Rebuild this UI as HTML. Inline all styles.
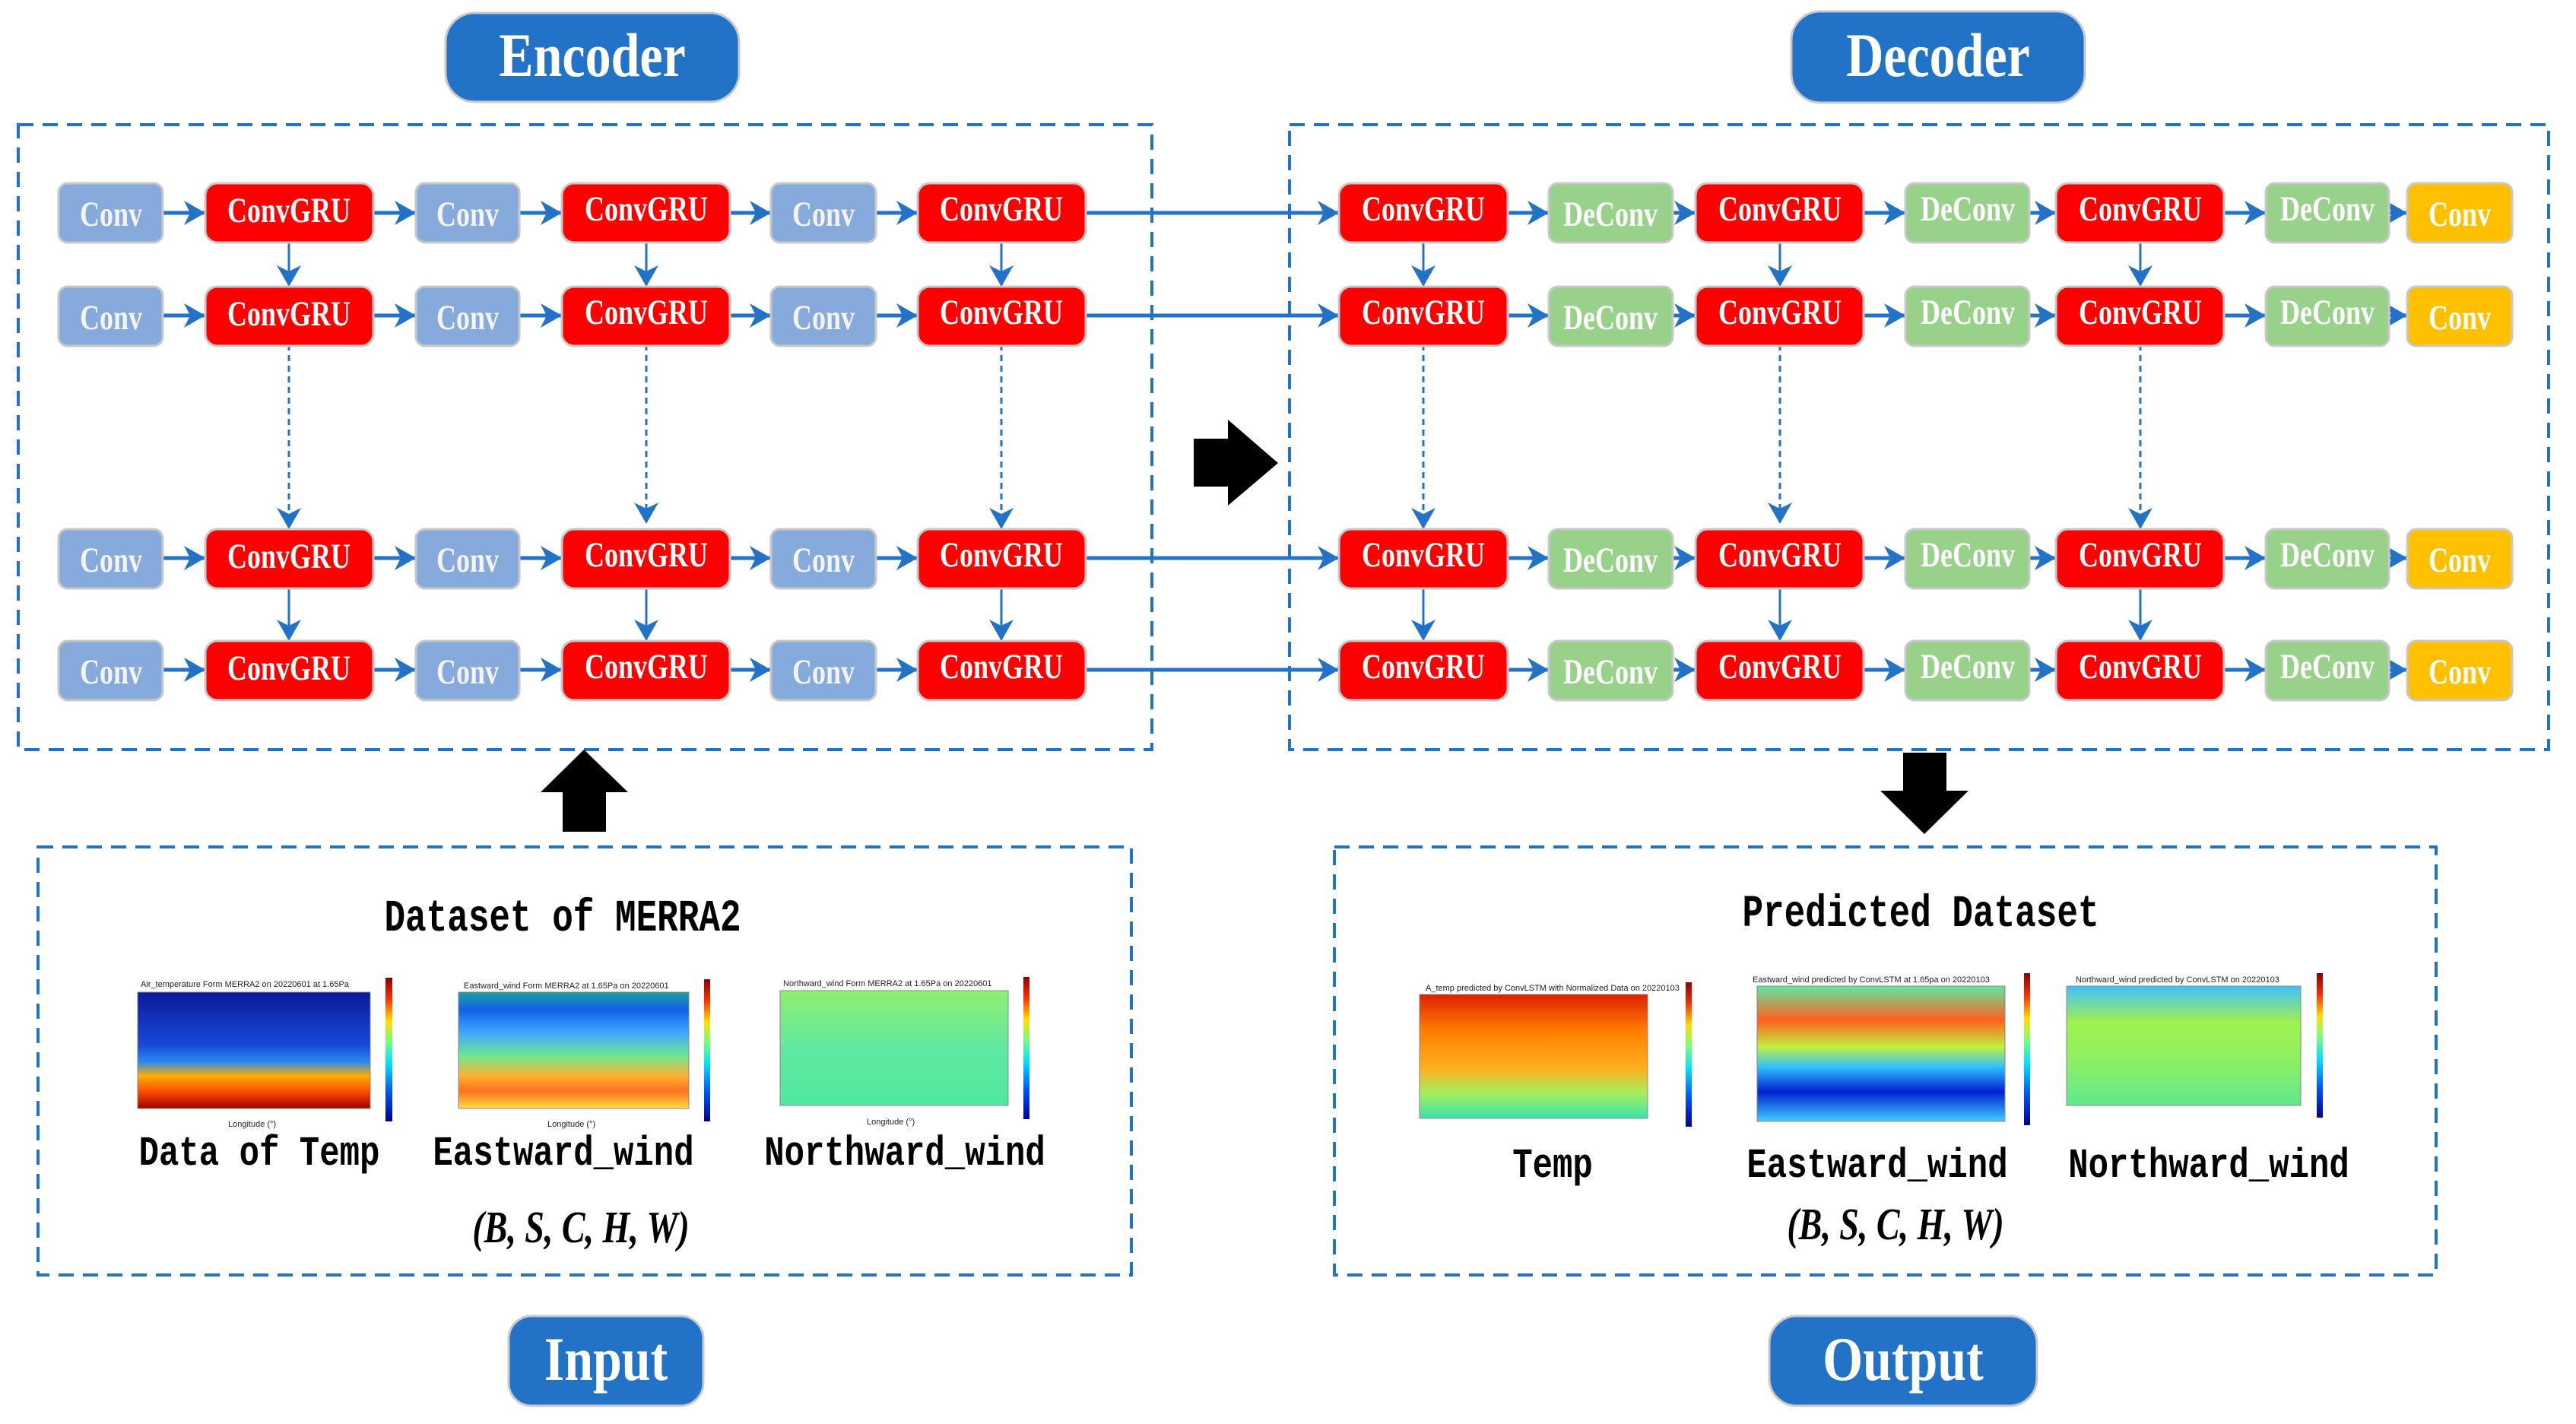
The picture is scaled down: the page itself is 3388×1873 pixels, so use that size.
<!DOCTYPE html>
<html><head><meta charset="utf-8"><style>
html,body{margin:0;padding:0;background:#fff;}
svg{display:block;}
.bt{font-family:"Liberation Serif",serif;font-weight:bold;fill:#fff;}
.mo{font-family:"Liberation Mono",monospace;font-weight:bold;fill:#000;}
.it{font-family:"Liberation Serif",serif;font-weight:bold;font-style:italic;fill:#000;}
</style></head><body>
<svg width="3388" height="1873" viewBox="0 0 3388 1873" xmlns="http://www.w3.org/2000/svg">
<defs>
<marker id="ah" markerUnits="userSpaceOnUse" markerWidth="30" markerHeight="32" refX="28" refY="16" orient="auto"><path d="M0,0 L28,16 L0,32 L8,16 Z" fill="#2272c8"/></marker>
<linearGradient id="cb" x1="0" y1="1" x2="0" y2="0"><stop offset="0" stop-color="#00008f"/><stop offset="0.2" stop-color="#0050ff"/><stop offset="0.4" stop-color="#00dfff"/><stop offset="0.55" stop-color="#70ff80"/><stop offset="0.7" stop-color="#ffe000"/><stop offset="0.85" stop-color="#ff3000"/><stop offset="1" stop-color="#8f0000"/></linearGradient>
<linearGradient id="m1" x1="0" y1="0" x2="0" y2="1"><stop offset="0" stop-color="#0a1a9a"/><stop offset="0.45" stop-color="#1848d8"/><stop offset="0.6" stop-color="#2a8af0"/><stop offset="0.72" stop-color="#ffb000"/><stop offset="0.85" stop-color="#ff5000"/><stop offset="1" stop-color="#a00000"/></linearGradient>
<linearGradient id="m2" x1="0" y1="0" x2="0" y2="1"><stop offset="0" stop-color="#20a0a0"/><stop offset="0.15" stop-color="#1060e8"/><stop offset="0.35" stop-color="#40a8ff"/><stop offset="0.55" stop-color="#70e890"/><stop offset="0.72" stop-color="#ffb030"/><stop offset="0.85" stop-color="#ff7020"/><stop offset="1" stop-color="#ffe040"/></linearGradient>
<linearGradient id="m3" x1="0" y1="0" x2="0" y2="1"><stop offset="0" stop-color="#90f070"/><stop offset="0.5" stop-color="#60e8a0"/><stop offset="1" stop-color="#50e8a0"/></linearGradient>
<linearGradient id="m4" x1="0" y1="0" x2="0" y2="1"><stop offset="0" stop-color="#e02000"/><stop offset="0.3" stop-color="#ff8000"/><stop offset="0.6" stop-color="#ffb020"/><stop offset="0.8" stop-color="#a0f060"/><stop offset="1" stop-color="#40e0b0"/></linearGradient>
<linearGradient id="m5" x1="0" y1="0" x2="0" y2="1"><stop offset="0" stop-color="#60e8a0"/><stop offset="0.25" stop-color="#ff6020"/><stop offset="0.45" stop-color="#c0f040"/><stop offset="0.6" stop-color="#30c0ff"/><stop offset="0.78" stop-color="#0020d0"/><stop offset="1" stop-color="#40d0ff"/></linearGradient>
<linearGradient id="m6" x1="0" y1="0" x2="0" y2="1"><stop offset="0" stop-color="#40c0ff"/><stop offset="0.3" stop-color="#a0f050"/><stop offset="0.6" stop-color="#90f060"/><stop offset="1" stop-color="#60e890"/></linearGradient>
</defs>

<!-- Pills -->
<rect x="586" y="17" width="386" height="117" rx="38" fill="#2272c8" stroke="#c8c8c8" stroke-width="3"/>
<text class="bt" transform="translate(779,100) scale(1,1.2)" text-anchor="middle" font-size="68">Encoder</text>
<rect x="2356" y="15" width="386" height="120" rx="38" fill="#2272c8" stroke="#c8c8c8" stroke-width="3"/>
<text class="bt" transform="translate(2549,100) scale(1,1.2)" text-anchor="middle" font-size="68">Decoder</text>
<rect x="669" y="1731" width="256" height="118" rx="30" fill="#2272c8" stroke="#c8c8c8" stroke-width="3"/>
<text class="bt" transform="translate(797,1815) scale(1,1.2)" text-anchor="middle" font-size="68">Input</text>
<rect x="2327" y="1731" width="352" height="118" rx="36" fill="#2272c8" stroke="#c8c8c8" stroke-width="3"/>
<text class="bt" transform="translate(2503,1815) scale(1,1.2)" text-anchor="middle" font-size="68">Output</text>

<!-- Dashed containers -->
<g fill="none" stroke="#2272c8" stroke-width="4" stroke-dasharray="20 12">
<rect x="24" y="164" width="1491" height="822"/>
<rect x="1696" y="164" width="1656" height="822"/>
<rect x="50" y="1114" width="1438" height="563"/>
<rect x="1755" y="1114" width="1449" height="563"/>
</g>

<!-- Big arrows -->
<path d="M1570,577 L1615,577 L1615,552 L1681,609 L1615,665 L1615,640 L1570,640 Z" fill="#000"/>
<path d="M740,1094 L797,1094 L797,1042 L826,1042 L768,986 L711,1042 L740,1042 Z" fill="#000"/>
<path d="M2503,990 L2560,990 L2560,1040 L2589,1040 L2531,1097 L2473,1040 L2503,1040 Z" fill="#000"/>

<!-- horizontal connector row template -->
<g id="hr" stroke="#2272c8" stroke-width="5" fill="none" marker-end="url(#ah)">
<path d="M214,280H270"/><path d="M491,280H547"/><path d="M683,280H739"/><path d="M960,280H1014"/><path d="M1152,280H1207"/>
<path d="M1428,280H1761"/><path d="M1983,280H2037"/><path d="M2200,280H2230"/><path d="M2451,280H2506"/><path d="M2669,280H2704"/><path d="M2925,280H2980"/><path d="M3142,280H3166"/>
</g>
<use href="#hr" transform="translate(0,135)"/>
<use href="#hr" transform="translate(0,454)"/>
<use href="#hr" transform="translate(0,601)"/>

<g stroke="#2272c8" stroke-width="3" fill="none" marker-end="url(#ah)">
<path d="M380,319V377"/><path d="M850,319V377"/><path d="M1317,319V377"/>
<path d="M1872,319V377"/><path d="M2341,319V377"/><path d="M2815,319V377"/>
<path d="M380,772V843"/><path d="M850,772V843"/><path d="M1317,772V843"/>
<path d="M1872,772V843"/><path d="M2341,772V843"/><path d="M2815,772V843"/>
<path d="M380,453V696" stroke-dasharray="8 6"/><path d="M850,453V689" stroke-dasharray="8 6"/><path d="M1317,453V696" stroke-dasharray="8 6"/>
<path d="M1872,453V696" stroke-dasharray="8 6"/><path d="M2341,453V689" stroke-dasharray="8 6"/><path d="M2815,453V696" stroke-dasharray="8 6"/>
</g>

<!-- Row boxes -->
<g id="r1">
<g stroke="#c8c8c8" stroke-width="3">
<rect x="77" y="241" width="137" height="78" rx="12" fill="#86aadc"/>
<rect x="270" y="241" width="221" height="78" rx="16" fill="#ff0000"/>
<rect x="547" y="241" width="136" height="78" rx="12" fill="#86aadc"/>
<rect x="739" y="241" width="221" height="78" rx="16" fill="#ff0000"/>
<rect x="1014" y="241" width="138" height="78" rx="12" fill="#86aadc"/>
<rect x="1207" y="241" width="221" height="78" rx="16" fill="#ff0000"/>
<rect x="1761" y="241" width="222" height="78" rx="16" fill="#ff0000"/>
<rect x="2037" y="241" width="163" height="78" rx="12" fill="#97d18a"/>
<rect x="2230" y="241" width="221" height="78" rx="16" fill="#ff0000"/>
<rect x="2506" y="241" width="163" height="78" rx="12" fill="#97d18a"/>
<rect x="2704" y="241" width="221" height="78" rx="16" fill="#ff0000"/>
<rect x="2980" y="241" width="162" height="78" rx="12" fill="#97d18a"/>
<rect x="3166" y="241" width="138" height="78" rx="12" fill="#ffc000"/>
</g>
<g class="bt" font-size="36" text-anchor="middle">
<text transform="translate(146,297) scale(1,1.3)" fill="#f4f4f4">Conv</text>
<text transform="translate(380,292) scale(1,1.3)">ConvGRU</text>
<text transform="translate(615,297) scale(1,1.3)" fill="#f4f4f4">Conv</text>
<text transform="translate(850,290) scale(1,1.3)">ConvGRU</text>
<text transform="translate(1083,297) scale(1,1.3)" fill="#f4f4f4">Conv</text>
<text transform="translate(1317,290) scale(1,1.3)">ConvGRU</text>
<text transform="translate(1872,290) scale(1,1.3)">ConvGRU</text>
<text transform="translate(2118,297) scale(1,1.3)">DeConv</text>
<text transform="translate(2341,290) scale(1,1.3)">ConvGRU</text>
<text transform="translate(2588,290) scale(1,1.3)">DeConv</text>
<text transform="translate(2815,290) scale(1,1.3)">ConvGRU</text>
<text transform="translate(3061,290) scale(1,1.3)">DeConv</text>
<text transform="translate(3235,297) scale(1,1.3)">Conv</text>
</g>
</g>
<use href="#r1" transform="translate(0,136)"/>
<use href="#r1" transform="translate(0,455)"/>
<use href="#r1" transform="translate(0,602)"/>

<!-- Input dataset -->
<text class="mo" transform="translate(740,1224) scale(1,1.3)" text-anchor="middle" font-size="46">Dataset of MERRA2</text>
<rect x="181" y="1305" width="306" height="153" fill="url(#m1)" stroke="#888" stroke-width="1"/>
<rect x="507" y="1286" width="9" height="189" fill="url(#cb)"/>
<rect x="603" y="1305" width="303" height="153" fill="url(#m2)" stroke="#888" stroke-width="1"/>
<rect x="926" y="1288" width="8" height="187" fill="url(#cb)"/>
<rect x="1026" y="1303" width="300" height="151" fill="url(#m3)" stroke="#888" stroke-width="1"/>
<rect x="1346" y="1285" width="8" height="187" fill="url(#cb)"/>
<g font-family="Liberation Sans,sans-serif" font-size="11" fill="#222">
<text x="185" y="1298">Air_temperature Form MERRA2 on 20220601 at 1.65Pa</text>
<text x="610" y="1300">Eastward_wind Form MERRA2 at 1.65Pa on 20220601</text>
<text x="1030" y="1297">Northward_wind Form MERRA2 at 1.65Pa on 20220601</text>
<text x="300" y="1482">Longitude (°)</text><text x="720" y="1482">Longitude (°)</text><text x="1140" y="1479">Longitude (°)</text>
</g>
<g class="mo" font-size="44">
<text transform="translate(341,1532) scale(1,1.25)" text-anchor="middle">Data of Temp</text>
<text transform="translate(741,1532) scale(1,1.25)" text-anchor="middle">Eastward_wind</text>
<text transform="translate(1190,1532) scale(1,1.25)" text-anchor="middle">Northward_wind</text>
</g>
<text class="it" transform="translate(764,1634) scale(1,1.3)" text-anchor="middle" font-size="46">(B, S, C, H, W)</text>

<!-- Output dataset -->
<text class="mo" transform="translate(2526,1218) scale(1,1.3)" text-anchor="middle" font-size="46">Predicted Dataset</text>
<rect x="1867" y="1308" width="300" height="163" fill="url(#m4)" stroke="#888" stroke-width="1"/>
<rect x="2217" y="1292" width="8" height="190" fill="url(#cb)"/>
<rect x="2311" y="1297" width="326" height="178" fill="url(#m5)" stroke="#888" stroke-width="1"/>
<rect x="2662" y="1280" width="8" height="200" fill="url(#cb)"/>
<rect x="2718" y="1297" width="308" height="157" fill="url(#m6)" stroke="#888" stroke-width="1"/>
<rect x="3047" y="1280" width="8" height="190" fill="url(#cb)"/>
<g font-family="Liberation Sans,sans-serif" font-size="11" fill="#222">
<text x="1875" y="1303">A_temp predicted by ConvLSTM with Normalized Data on 20220103</text>
<text x="2305" y="1292">Eastward_wind predicted by ConvLSTM at 1.65pa on 20220103</text>
<text x="2730" y="1292">Northward_wind predicted by ConvLSTM on 20220103</text>
</g>
<g class="mo" font-size="44">
<text transform="translate(2042,1548) scale(1,1.25)" text-anchor="middle">Temp</text>
<text transform="translate(2469,1548) scale(1,1.25)" text-anchor="middle">Eastward_wind</text>
<text transform="translate(2905,1548) scale(1,1.25)" text-anchor="middle">Northward_wind</text>
</g>
<text class="it" transform="translate(2493,1630) scale(1,1.3)" text-anchor="middle" font-size="46">(B, S, C, H, W)</text>
</svg>
</body></html>
